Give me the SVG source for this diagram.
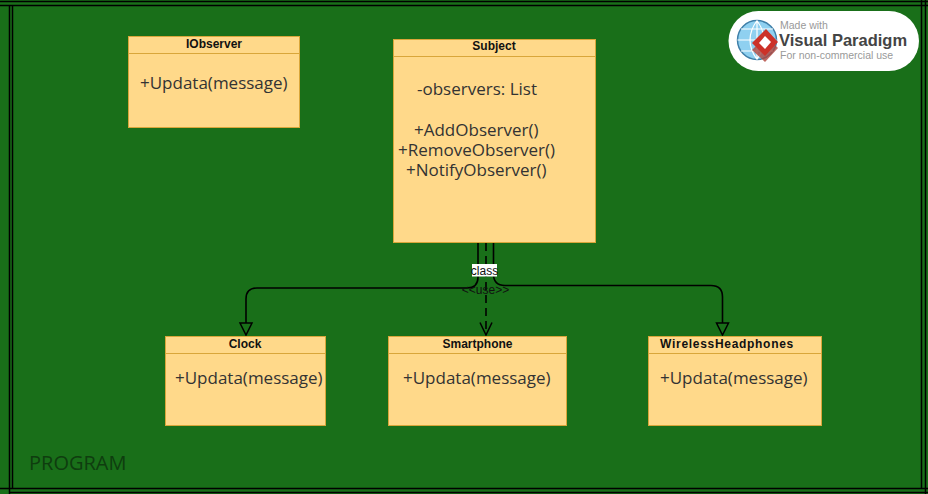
<svg xmlns="http://www.w3.org/2000/svg" width="928" height="494" viewBox="0 0 928 494">
<style>
.frame{fill:none;stroke:#000;stroke-width:1.5}
.box{fill:#ffd98a;stroke:#d9a63a;stroke-width:1}
.sep{stroke:#d9a63a;stroke-width:1}
.title{font:bold 12px "Liberation Sans",Arial,sans-serif;fill:#111;text-anchor:middle}
.body{font:17px "Open Sans","Noto Sans",sans-serif;fill:#333}
.conn{fill:none;stroke:#000;stroke-width:1.6}
.small{font:12px "Liberation Sans",Arial,sans-serif;fill:#111;text-anchor:middle}
</style>
<defs>
<marker id="tri" markerUnits="userSpaceOnUse" markerWidth="14" markerHeight="14" refX="6.5" refY="0.5" orient="0" overflow="visible">
<path d="M0.5 0.500H12.500L6.500 12.500Z" fill="none" stroke="#000" stroke-width="1.500"/>
</marker>
<marker id="open" markerUnits="userSpaceOnUse" markerWidth="14" markerHeight="14" refX="6.5" refY="13" orient="0" overflow="visible">
<path d="M0.500 0.500L6.500 13L12.500 0.500" fill="none" stroke="#000" stroke-width="1.500"/>
</marker>
</defs>
<rect width="928" height="494" fill="#196f19"/>
<g id="frame">
<path class="frame" d="M0 1.500H928M0 5.500H928M0 488.500H928M10 492.500H928M9.500 5V494M12.500 5V488M921.500 0V488M925.500 0V494"/>
</g>
<g id="connectors">
<path class="conn" d="M478 243V277Q478 288 467 288H257Q246 288 246 299V323" marker-end="url(#tri)"/>
<path class="conn" d="M486 243V335" stroke-dasharray="8 5" marker-end="url(#open)"/>
<path class="conn" d="M493.500 243V274Q493.500 285.500 505 285.500H711Q722.500 285.500 722.500 297V323" marker-end="url(#tri)"/>
<rect x="472" y="264" width="25" height="12.500" fill="#fff"/>
<text class="small" x="484.500" y="274.500">class</text>
<text class="small" x="485.500" y="293.500">&lt;&lt;use&gt;&gt;</text>
</g>
<g id="iobserver">
<rect class="box" x="128.500" y="36.500" width="171" height="91"/>
<path class="sep" d="M128.500 53.500H299.500"/>
<text class="title" x="214" y="48">IObserver</text>
<text class="body" x="140" y="89">+Updata(message)</text>
</g>
<g id="subject">
<rect class="box" x="393.500" y="39.500" width="202" height="203"/>
<path class="sep" d="M393.500 56.500H595.500"/>
<text class="title" x="494" y="50">Subject</text>
<text class="body" x="417" y="95">-observers: List</text>
<text class="body" x="414" y="136">+AddObserver()</text>
<text class="body" x="398" y="156">+RemoveObserver()</text>
<text class="body" x="406" y="176">+NotifyObserver()</text>
</g>
<g id="clock">
<rect class="box" x="165.500" y="336.500" width="160" height="89"/>
<path class="sep" d="M165.500 353.500H325.500"/>
<text class="title" x="245" y="348">Clock</text>
<text class="body" x="175" y="384">+Updata(message)</text>
</g>
<g id="smartphone">
<rect class="box" x="388.500" y="336.500" width="178" height="89"/>
<path class="sep" d="M388.500 353.500H566.500"/>
<text class="title" x="477.500" y="348">Smartphone</text>
<text class="body" x="403" y="384">+Updata(message)</text>
</g>
<g id="wirelessheadphones">
<rect class="box" x="648.500" y="336.500" width="173" height="89"/>
<path class="sep" d="M648.500 353.500H821.500"/>
<text class="title" x="727" y="348" style="letter-spacing:.7px">WirelessHeadphones</text>
<text class="body" x="660" y="384">+Updata(message)</text>
</g>
<text x="29" y="470" style="font:20px 'Open Sans','Noto Sans',sans-serif;fill:#0f3d0f">PROGRAM</text>
<g id="watermark">
<rect x="728.500" y="11" width="190.500" height="60" rx="30" fill="#fff"/>
<circle cx="757" cy="40" r="19.500" fill="#8fd0f0" stroke="#3f7fa8" stroke-width="1.500"/>
<path d="M737.500 40H776.500M757 20.500V59.500M741 29H773M741 51H773M757 20.500Q743 40 757 59.500M757 20.500Q771 40 757 59.500" fill="none" stroke="#fff" stroke-width="1.200"/>
<path d="M766 36L778 48L765 62L752 50Z" fill="#b0453c" opacity=".8"/>
<path d="M766 29L778 42L765 56L752 43Z" fill="#cc3128"/>
<path d="M765 36L771 42L765 49L759 43Z" fill="#fff"/>
<text x="780" y="29" style="font:10.500px 'Liberation Sans',Arial,sans-serif;fill:#999">Made with</text>
<text x="779" y="46" style="font:bold 16.500px 'Liberation Sans',Arial,sans-serif;fill:#444">Visual Paradigm</text>
<text x="780" y="59" style="font:10.500px 'Liberation Sans',Arial,sans-serif;fill:#999">For non-commercial use</text>
</g>
</svg>
